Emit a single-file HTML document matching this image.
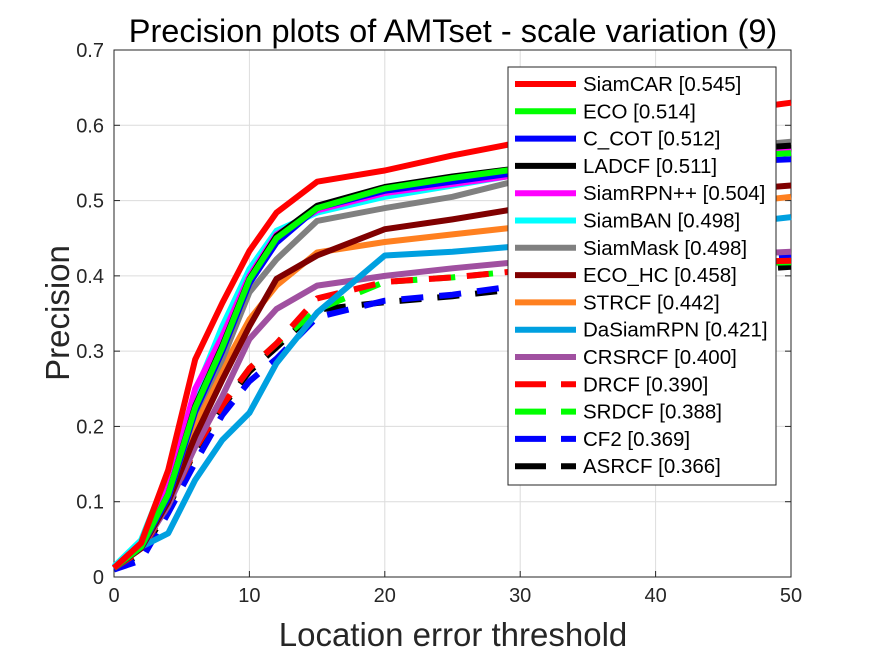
<!DOCTYPE html>
<html><head><meta charset="utf-8"><style>
body{margin:0;background:#fff;width:875px;height:656px;overflow:hidden;font-family:"Liberation Sans",sans-serif}
</style></head><body>
<svg id="chart" width="875" height="656" xmlns="http://www.w3.org/2000/svg" font-family="Liberation Sans, sans-serif"></svg>
<script>
const xs=[0,2,4,6,8,10,12,15,20,25,29,35,40,45,50];
const names=["SiamCAR [0.545]","ECO [0.514]","C_COT [0.512]","LADCF [0.511]","SiamRPN++ [0.504]","SiamBAN [0.498]","SiamMask [0.498]","ECO_HC [0.458]","STRCF [0.442]","DaSiamRPN [0.421]","CRSRCF [0.400]","DRCF [0.390]","SRDCF [0.388]","CF2 [0.369]","ASRCF [0.366]"];
const colors=["#ff0000","#00ff00","#0000ff","#000000","#ff00ff","#00ffff","#808080","#800000","#ff8020","#00a0e0","#a050a0","#ff0000","#00ff00","#0000ff","#000000"];
const dashed=[false,false,false,false,false,false,false,false,false,false,false,true,true,true,true];
const sSiamCAR=[0.012,0.045,0.142,0.289,0.364,0.433,0.484,0.525,0.54,0.56,0.574,0.59,0.605,0.618,0.63];
const sECO=[0.012,0.04,0.11,0.225,0.305,0.395,0.45,0.49,0.516,0.53,0.54,0.548,0.553,0.558,0.563];
const sCCOT=[0.012,0.04,0.105,0.22,0.3,0.39,0.444,0.49,0.513,0.525,0.535,0.542,0.547,0.551,0.555];
const sLADCF=[0.012,0.04,0.11,0.227,0.307,0.396,0.453,0.493,0.518,0.532,0.541,0.552,0.56,0.567,0.573];
const sRPN=[0.012,0.045,0.12,0.25,0.32,0.4,0.455,0.487,0.51,0.522,0.532,0.545,0.553,0.561,0.567];
const sBAN=[0.014,0.049,0.138,0.244,0.333,0.409,0.46,0.484,0.505,0.52,0.532,0.542,0.55,0.558,0.565];
const sMask=[0.012,0.04,0.105,0.218,0.289,0.378,0.422,0.473,0.49,0.505,0.523,0.545,0.558,0.57,0.578];
const sECOHC=[0.012,0.038,0.1,0.187,0.262,0.333,0.396,0.427,0.462,0.475,0.487,0.497,0.505,0.513,0.52];
const sSTRCF=[0.012,0.04,0.105,0.2,0.276,0.342,0.387,0.431,0.445,0.455,0.463,0.475,0.485,0.495,0.505];
const sDaSiam=[0.012,0.04,0.058,0.129,0.182,0.218,0.284,0.351,0.427,0.432,0.438,0.448,0.458,0.468,0.478];
const sCRSRCF=[0.012,0.038,0.095,0.173,0.24,0.316,0.356,0.387,0.4,0.41,0.417,0.42,0.424,0.428,0.432];
const sDRCF=[0.012,0.035,0.095,0.17,0.228,0.277,0.31,0.37,0.392,0.398,0.405,0.41,0.414,0.418,0.42];
const sSRDCF=[0.012,0.035,0.095,0.17,0.228,0.277,0.31,0.355,0.392,0.398,0.405,0.41,0.413,0.416,0.418];
const sCF2=[0.01,0.022,0.085,0.152,0.215,0.26,0.29,0.345,0.367,0.375,0.385,0.4,0.41,0.418,0.428];
const sASRCF=[0.012,0.03,0.092,0.168,0.226,0.273,0.305,0.355,0.365,0.373,0.381,0.392,0.4,0.406,0.412];
const series=[sSiamCAR,sECO,sCCOT,sLADCF,sRPN,sBAN,sMask,sECOHC,sSTRCF,sDaSiam,sCRSRCF,sDRCF,sSRDCF,sCF2,sASRCF];
const xTicks=[0,10,20,30,40,50];
const yTicks=[0,0.1,0.2,0.3,0.4,0.5,0.6,0.7];
const L=114,R=791,T=50,B=577;
const X=v=>L+(v/50)*(R-L), Y=v=>B-(v/0.7)*(B-T);
const svg=document.getElementById('chart');const NS="http://www.w3.org/2000/svg";
function mk(tag,at,parent){const e=document.createElementNS(NS,tag);for(const k in at)e.setAttribute(k,at[k]);(parent||svg).appendChild(e);return e;}
const bg=mk('rect',{x:L,y:T,width:R-L,height:B-T,fill:'#fff'});


xTicks.forEach(t=>{const g=mk('line',{x1:X(t),x2:X(t),y1:T,y2:B,stroke:'#dcdcdc','stroke-width':1});


mk('line',{x1:X(t),x2:X(t),y1:B,y2:B-6,stroke:'#262626'});
const lb=mk('text',{x:X(t),y:B+25,'text-anchor':'middle','font-size':20,fill:'#262626'});lb.textContent=t;

});
yTicks.forEach(t=>{const g=mk('line',{x1:L,x2:R,y1:Y(t),y2:Y(t),stroke:'#dcdcdc','stroke-width':1});


mk('line',{x1:L,x2:L+6,y1:Y(t),y2:Y(t),stroke:'#262626'});
mk('line',{x1:R,x2:R-6,y1:Y(t),y2:Y(t),stroke:'#262626'});
const lb=mk('text',{x:L-10,y:Y(t)+7,'text-anchor':'end','font-size':20,fill:'#262626'});lb.textContent=t;

});
const ax=mk('rect',{x:L,y:T,width:R-L,height:B-T,fill:'none',stroke:'#262626','stroke-width':1});


for(let i=series.length-1;i>=0;i--){const d=series[i].map((v,j)=>(j?'L':'M')+X(xs[j]).toFixed(1)+','+Y(v).toFixed(1)).join('');
const p=mk('path',{d:d,fill:'none',stroke:colors[i],'stroke-width':6,'stroke-linejoin':'round'});
if(dashed[i])p.setAttribute('stroke-dasharray','22 16');

}
const lg=mk('g',{});


mk('rect',{x:508,y:67,width:268,height:418,fill:'#fff',stroke:'#262626','stroke-width':1},lg);
names.forEach((n,i)=>{const y=84+i*27.3;
const s=mk('line',{x1:515,x2:576,y1:y,y2:y,stroke:colors[i],'stroke-width':6},lg);
if(dashed[i])s.setAttribute('stroke-dasharray','31 15');


const t=mk('text',{x:583,y:y+7,'font-size':20.5,fill:'#000'},lg);t.textContent=n;

});
const ti=mk('text',{x:453,y:42,'text-anchor':'middle','font-size':32.5,fill:'#000'});ti.textContent='Precision plots of AMTset - scale variation (9)';


const xl=mk('text',{x:453,y:646,'text-anchor':'middle','font-size':33,fill:'#262626'});xl.textContent='Location error threshold';


const yl=mk('text',{x:0,y:0,transform:'translate(69,313) rotate(-90)','text-anchor':'middle','font-size':33,fill:'#262626'});yl.textContent='Precision';


</script>
</body></html>
